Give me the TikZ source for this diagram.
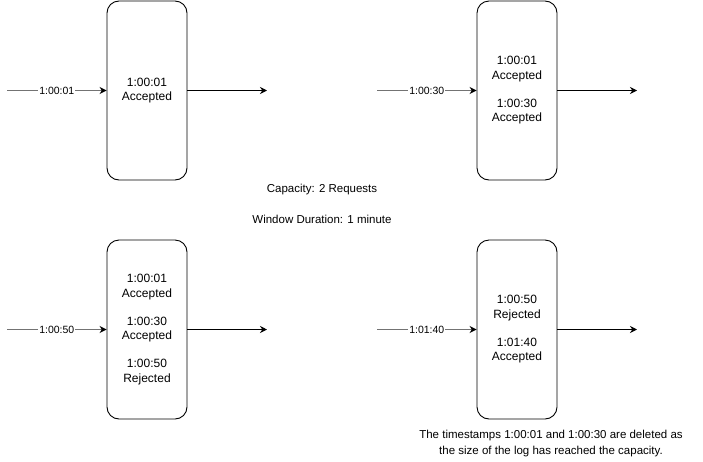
\documentclass[tikz,border=0pt]{standalone}
\usepackage{fontspec}
\setmainfont{Liberation Sans}
\usetikzlibrary{arrows.meta}
\tikzset{
	logbox/.style={draw, line width=0.9pt, rounded corners=12pt, minimum width=80pt, minimum height=179pt, align=center, font=\fontsize{12}{14.5}\selectfont, inner sep=0pt},
	reqline/.style={black!55, line width=1pt, -{Stealth[black, length=7pt, width=7pt]}},
	outline/.style={black, line width=1pt, -{Stealth[length=7pt, width=7pt]}},
	reqlabel/.style={fill=white, inner sep=1pt, text=black, font=\fontsize{10.5}{12}\selectfont},
	note/.style={align=center, font=\fontsize{11.5}{16}\selectfont}
}
\begin{document}
\begin{tikzpicture}[x=1pt, y=-1pt]
			\useasboundingbox (0,0) rectangle (703,461);
			%log boxes
			\node[logbox] (box1) at (147, 90.5) {1:00:01\\Accepted};
			\node[logbox] (box2) at (517, 90.5) {1:00:01\\Accepted\\[13.5pt]1:00:30\\Accepted};
			\node[logbox] (box3) at (147, 329.5) {1:00:01\\Accepted\\[13.5pt]1:00:30\\Accepted\\[13.5pt]1:00:50\\Rejected};
			\node[logbox] (box4) at (517, 329.5) {1:00:50\\Rejected\\[13.5pt]1:01:40\\Accepted};
			
			%request and output ends
			\coordinate (in1) at (7, 90.5);
			\coordinate (in2) at (377, 90.5);
			\coordinate (in3) at (7, 329.5);
			\coordinate (in4) at (377, 329.5);
			\coordinate (out1) at (267, 90.5);
			\coordinate (out2) at (637, 90.5);
			\coordinate (out3) at (267, 329.5);
			\coordinate (out4) at (637, 329.5);
			
			\foreach \i/\t in {1/1:00:01, 2/1:00:30, 3/1:00:50, 4/1:01:40}{
				\draw[reqline] (in\i) -- node[reqlabel]{\t} (box\i.west);
				\draw[outline] (box\i.east) -- (out\i);
			}
			
			%notes
			\node[note] (capacity) at (322, 190) {Capacity: 2 Requests};
			\node[note] (window) at (322, 219) {Window Duration: 1 minute};
			\node[note] (deleted) at (551, 444) {The timestamps 1:00:01 and 1:00:30 are deleted as\\the size of the log has reached the capacity.};
\end{tikzpicture}
\end{document}
